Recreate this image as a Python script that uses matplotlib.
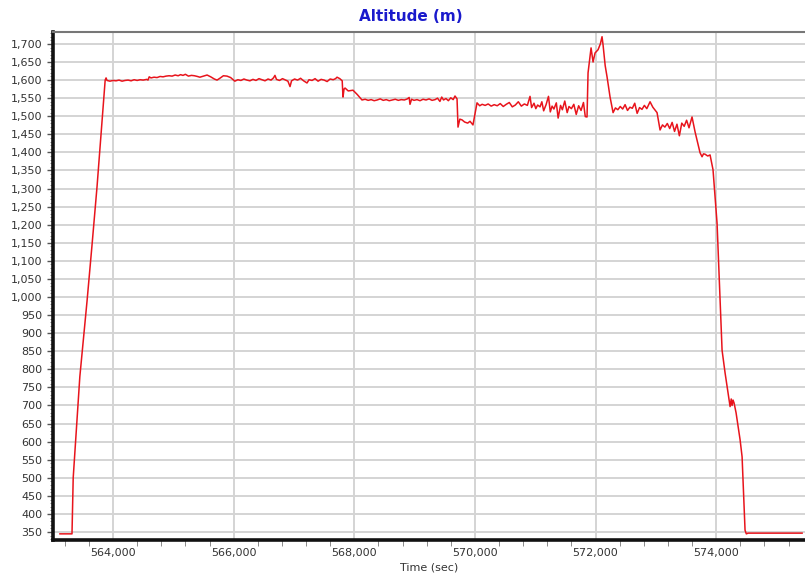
"""Altitude trace over flight time."""

import matplotlib
matplotlib.use("Agg")
from matplotlib import pyplot as plt
from matplotlib.ticker import FuncFormatter, MultipleLocator

# Flight time in seconds and logged altitude in metres.
time_sec = [
    563120, 563320, 563340, 563450, 563570, 563650, 563735, 563820, 563870, 563885,
    563900, 563950, 564000, 564050, 564100, 564150, 564200, 564250, 564300, 564350,
    564400, 564450, 564500, 564560, 564580, 564600, 564630, 564680, 564730, 564780,
    564830, 564880, 564930, 564980, 565030, 565080, 565120, 565160, 565200, 565250,
    565300, 565350, 565400, 565440, 565500, 565560, 565620, 565680, 565725, 565780,
    565830, 565890, 565950, 566000, 566020, 566070, 566120, 566170, 566220, 566270,
    566320, 566370, 566420, 566470, 566520, 566570, 566620, 566660, 566685, 566710,
    566760, 566810, 566860, 566900, 566935, 566960, 567010, 567060, 567110, 567160,
    567216, 567250, 567300, 567350, 567400, 567450, 567500, 567550, 567600, 567650,
    567690, 567714, 567760, 567800, 567813, 567830, 567847, 567900, 567979, 568050,
    568128, 568180, 568230, 568280, 568330, 568380, 568430, 568480, 568530, 568580,
    568630, 568680, 568730, 568780, 568830, 568880, 568910, 568924, 568950, 568990,
    569040, 569090, 569140, 569190, 569240, 569290, 569340, 569380, 569420, 569450,
    569480, 569520, 569560, 569600, 569640, 569670, 569704, 569720, 569750, 569786,
    569830, 569880, 569919, 569968, 570035, 570080, 570120, 570170, 570220, 570270,
    570320, 570370, 570420, 570470, 570520, 570570, 570620, 570670, 570720, 570770,
    570820, 570870, 570914, 570940, 570980, 571010, 571040, 571080, 571110, 571140,
    571180, 571220, 571250, 571280, 571310, 571350, 571380, 571420, 571450, 571490,
    571530, 571560, 571600, 571640, 571680, 571720, 571760, 571800, 571830, 571859,
    571876, 571926, 571940, 571959, 571992, 572020, 572042, 572080, 572108, 572125,
    572160, 572191, 572241, 572291, 572330, 572370, 572410, 572450, 572490, 572530,
    572570, 572610, 572650, 572690, 572730, 572770, 572810, 572850, 572904, 572950,
    573020, 573070, 573110, 573150, 573190, 573230, 573270, 573310, 573350, 573390,
    573430, 573470, 573510, 573550, 573600, 573650, 573733, 573766, 573790, 573816,
    573860, 573899, 573948, 574015, 574098, 574148, 574231, 574250, 574264, 574280,
    574297, 574330, 574397, 574430, 574479, 574500, 574529, 575425,
]
altitude_m = [
    345, 345, 500, 780, 990, 1140, 1305, 1490, 1600, 1606,
    1599, 1597, 1599, 1598, 1600, 1597, 1599, 1600, 1598, 1601,
    1599, 1601, 1600, 1602, 1600, 1609, 1606, 1608, 1607, 1610,
    1609, 1611, 1612, 1611, 1614, 1612, 1615, 1613, 1616, 1611,
    1613, 1612, 1610, 1608, 1611, 1614, 1609, 1603, 1600, 1606,
    1612, 1611, 1607, 1600, 1597, 1601, 1599, 1603, 1600, 1598,
    1602, 1599, 1604, 1601, 1598, 1603, 1600, 1606, 1613, 1602,
    1599, 1604, 1600, 1597, 1582, 1598, 1603, 1600, 1605, 1598,
    1592, 1601, 1599, 1604, 1597, 1602, 1600, 1596, 1603, 1601,
    1604, 1608, 1604, 1598, 1553, 1575, 1578, 1570, 1572, 1560,
    1545, 1547, 1544, 1546, 1543, 1545, 1548, 1544, 1546, 1543,
    1545, 1547, 1544, 1546, 1545, 1548, 1552, 1533, 1547, 1544,
    1546, 1543, 1547, 1545, 1548, 1544, 1546, 1550, 1541, 1553,
    1545, 1549, 1543, 1551, 1546, 1556, 1548, 1470, 1492, 1490,
    1484, 1481, 1486, 1476, 1537, 1529, 1533, 1530, 1534, 1528,
    1532, 1529, 1535, 1527, 1533, 1538, 1526, 1531, 1540, 1528,
    1534, 1530, 1555, 1524, 1536, 1521, 1531, 1526, 1540, 1515,
    1532, 1555, 1512, 1528, 1520, 1537, 1495, 1530, 1518, 1542,
    1510, 1527, 1521, 1533, 1505, 1529, 1516, 1538, 1499, 1498,
    1620, 1689, 1672, 1650, 1675, 1680, 1684, 1700, 1720, 1697,
    1640, 1609, 1553, 1510, 1523, 1518, 1527, 1520, 1532, 1516,
    1525, 1522, 1536, 1508, 1524, 1519, 1530, 1521, 1540, 1525,
    1510, 1462, 1476, 1470, 1480, 1466, 1483, 1458, 1478, 1446,
    1481, 1472, 1489, 1468, 1498, 1457, 1399, 1388, 1396, 1395,
    1390, 1393, 1352, 1204, 853, 790, 697, 718, 700, 715,
    707, 680, 605, 558, 355, 345, 347, 347,
]

TEXT_COLOR = "#333333"

fig = plt.figure(figsize=(8.05, 5.81), dpi=100)
ax = fig.add_axes([53 / 805, 41 / 581, 752 / 805, 508 / 581])

ax.plot(time_sec, altitude_m, color="#e8141c", linewidth=1.1, zorder=3)

ax.set_xlim(563005, 575473)
ax.set_ylim(328, 1733)

ax.xaxis.set_major_locator(MultipleLocator(2000))
ax.xaxis.set_minor_locator(MultipleLocator(400))
ax.yaxis.set_major_locator(MultipleLocator(50))
ax.yaxis.set_minor_locator(MultipleLocator(10))

comma_fmt = FuncFormatter(lambda v, _: f"{v:,.0f}")
ax.xaxis.set_major_formatter(comma_fmt)
ax.yaxis.set_major_formatter(comma_fmt)

ax.grid(True, which="major", color="#d4d4d4", linewidth=1.4, zorder=0)
ax.set_axisbelow(True)

ax.tick_params(axis="both", which="major", labelsize=8, labelcolor=TEXT_COLOR,
               color="#555555", length=4, width=1)
ax.tick_params(axis="both", which="minor", color="#777777", length=2, width=0.6)
ax.tick_params(axis="x", which="major", pad=6, length=0)
ax.tick_params(axis="x", which="minor", length=4)

for side in ("left", "bottom"):
    ax.spines[side].set_linewidth(2.6)
    ax.spines[side].set_color("#111111")
ax.spines["top"].set_linewidth(1.5)
ax.spines["top"].set_color("#777777")
ax.spines["right"].set_visible(False)

ax.set_xlabel("Time (sec)", fontsize=8, color=TEXT_COLOR, labelpad=3)
fig.text(0.51, 0.972, "Altitude (m)", ha="center", va="center",
         fontsize=11, fontweight="bold", color="#1a1acc")

fig.savefig("out.png", dpi=100)
